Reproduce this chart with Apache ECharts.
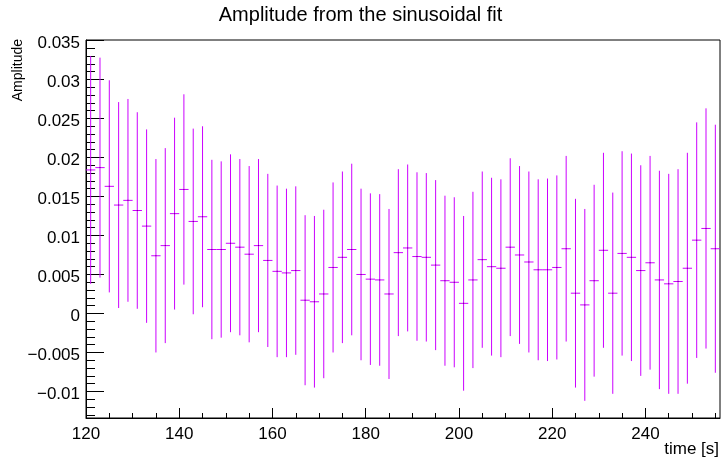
<!DOCTYPE html>
<html>
<head>
<meta charset="utf-8">
<script src="https://cdn.jsdelivr.net/npm/echarts@6/dist/echarts.min.js"></script>
<style>html,body{margin:0;padding:0;background:#fff}#c{width:721px;height:459px}</style>
</head>
<body>
<div id="c"></div>
<script>
const times = [121,123,125,127,129,131,133,135,137,139,141,143,145,147,149,151,153,155,157,159,161,163,165,167,169,171,173,175,177,179,181,183,185,187,189,191,193,195,197,199,201,203,205,207,209,211,213,215,217,219,221,223,225,227,229,231,233,235,237,239,241,243,245,247,249,251,253,255];
const amplitude = [0.0184,0.0187,0.0163,0.0139,0.0145,0.0132,0.0112,0.0074,0.0087,0.0128,0.0159,0.0118,0.0124,0.0082,0.0082,0.0090,0.0085,0.0076,0.0087,0.0068,0.0054,0.0052,0.0055,0.0017,0.0015,0.0025,0.0059,0.0072,0.0082,0.0050,0.0044,0.0043,0.0025,0.0078,0.0084,0.0073,0.0072,0.0062,0.0042,0.0040,0.0013,0.0043,0.0069,0.0060,0.0058,0.0085,0.0075,0.0066,0.0056,0.0056,0.0059,0.0083,0.0026,0.0011,0.0042,0.0081,0.0026,0.0077,0.0072,0.0055,0.0065,0.0043,0.0038,0.0041,0.0058,0.0094,0.0109,0.0083];
const amplitudeErr = [0.0146,0.0141,0.0136,0.0132,0.0130,0.0126,0.0124,0.0124,0.0125,0.0123,0.0122,0.0119,0.0116,0.0115,0.0113,0.0114,0.0113,0.0113,0.0111,0.0111,0.0110,0.0108,0.0108,0.0109,0.0110,0.0108,0.0109,0.0110,0.0110,0.0110,0.0110,0.0110,0.0109,0.0107,0.0107,0.0108,0.0108,0.0109,0.0109,0.0109,0.0112,0.0113,0.0113,0.0114,0.0114,0.0114,0.0114,0.0116,0.0116,0.0117,0.0118,0.0119,0.0121,0.0123,0.0123,0.0125,0.0129,0.0131,0.0133,0.0135,0.0137,0.0140,0.0141,0.0144,0.0148,0.0151,0.0154,0.0159];
const binHalfWidth = 1;
const xMajorTicks = [120,140,160,180,200,220,240];
const xMinorTicks = [125,130,135,145,150,155,165,170,175,185,190,195,205,210,215,225,230,235,245,250,255];
const yMajorTicks = [-0.01,-0.005,0,0.005,0.01,0.015,0.02,0.025,0.03,0.035];
const yMinorTicks = [-0.013,-0.012,-0.011,-0.009,-0.008,-0.007,-0.006,-0.004,-0.003,-0.002,-0.001,0.001,0.002,0.003,0.004,0.006,0.007,0.008,0.009,0.011,0.012,0.013,0.014,0.016,0.017,0.018,0.019,0.021,0.022,0.023,0.024,0.026,0.027,0.028,0.029,0.031,0.032,0.033,0.034];

const FONT = '"Liberation Sans", Arial, Helvetica, sans-serif';
const COLOR = '#cc00ff';
const xMin = 120, xMax = 256, yMin = -0.0134, yMax = 0.03506;

function fmtY(v) {
  const s = String(parseFloat(Math.abs(v).toFixed(4)));
  return '{a|' + (v < 0 ? '\u2212' : '') + s + '}';
}

const chart = echarts.init(document.getElementById('c'), null, {renderer: 'canvas'});
chart.setOption({
  animation: false,
  backgroundColor: '#ffffff',
  title: {
    text: 'Amplitude from the sinusoidal fit',
    left: 'center', top: 0,
    textStyle: {fontFamily: FONT, fontSize: 20, fontWeight: 'normal', color: '#000'}
  },
  grid: {left: 86, right: 1, top: 40, bottom: 41, show: true, borderColor: '#000', borderWidth: 1, backgroundColor: 'transparent'},
  xAxis: [{
    type: 'value', min: xMin, max: xMax, position: 'bottom',
    axisLine: {show: true, onZero: false, lineStyle: {color: '#000', width: 1}},
    axisTick: {show: true, inside: true, length: 10, customValues: xMajorTicks, lineStyle: {color: '#000'}},
    axisLabel: {show: true, customValues: xMajorTicks, fontFamily: FONT, fontSize: 17, color: '#000', margin: 8},
    splitLine: {show: false}
  }, {
    type: 'value', min: xMin, max: xMax, position: 'bottom',
    axisLine: {show: false, onZero: false},
    axisTick: {show: true, inside: true, length: 5, customValues: xMinorTicks, lineStyle: {color: '#000'}},
    axisLabel: {show: false},
    splitLine: {show: false}
  }],
  yAxis: [{
    type: 'value', min: yMin, max: yMax, position: 'left',
    axisLine: {show: true, onZero: false, lineStyle: {color: '#000', width: 1}},
    axisTick: {show: true, inside: true, length: 18, customValues: yMajorTicks, lineStyle: {color: '#000'}},
    axisLabel: {
      show: true, customValues: yMajorTicks, formatter: fmtY, margin: 6,
      rich: {a: {fontFamily: FONT, fontSize: 17, color: '#000', padding: [5, 0, 0, 0]}}
    },
    splitLine: {show: false}
  }, {
    type: 'value', min: yMin, max: yMax, position: 'left',
    axisLine: {show: false, onZero: false},
    axisTick: {show: true, inside: true, length: 9, customValues: yMinorTicks, lineStyle: {color: '#000'}},
    axisLabel: {show: false},
    splitLine: {show: false}
  }],
  graphic: [{
    type: 'text', x: 18, y: 39, rotation: Math.PI / 2,
    style: {text: 'Amplitude', fontFamily: FONT, fontSize: 14, fill: '#000', textAlign: 'right', textVerticalAlign: 'middle'}
  }, {
    type: 'text', x: 719, y: 449,
    style: {text: 'time [s]', fontFamily: FONT, fontSize: 17, fill: '#000', textAlign: 'right', textVerticalAlign: 'middle'}
  }],
  series: [{
    type: 'custom',
    xAxisIndex: 0, yAxisIndex: 0,
    data: times.map((t, i) => [t, amplitude[i], amplitudeErr[i]]),
    renderItem: function (params, api) {
      const x = api.value(0), y = api.value(1), e = api.value(2);
      const top = api.coord([x, y + e]);
      const bot = api.coord([x, y - e]);
      const l = api.coord([x - binHalfWidth, y]);
      const r = api.coord([x + binHalfWidth, y]);
      const c = api.coord([x, y]);
      const st = {stroke: COLOR, lineWidth: 1};
      return {
        type: 'group',
        children: [
          {type: 'line', shape: {x1: top[0], y1: top[1], x2: bot[0], y2: bot[1]}, style: st},
          {type: 'line', shape: {x1: l[0], y1: l[1], x2: r[0], y2: r[1]}, style: st},
          {type: 'rect', shape: {x: c[0] - 0.5, y: c[1] - 0.5, width: 1, height: 1}, style: {fill: '#660080'}}
        ]
      };
    },
    clip: true
  }]
});
</script>
</body>
</html>
